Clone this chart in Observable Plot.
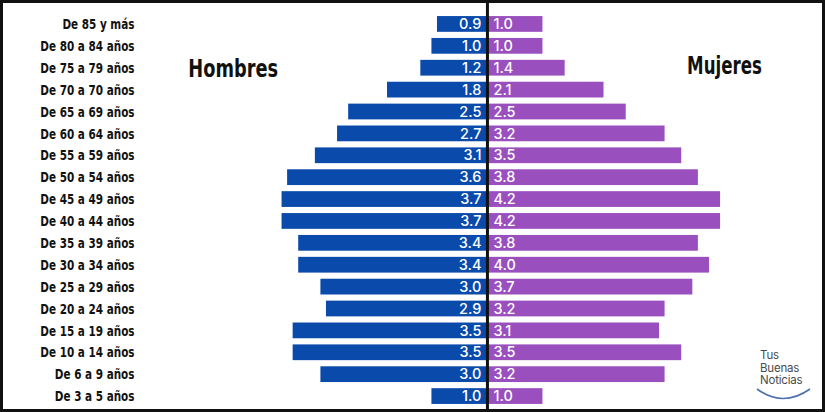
<!DOCTYPE html>
<html><head><meta charset="utf-8">
<script src="https://cdn.jsdelivr.net/npm/d3@7"></script>
<script src="https://cdn.jsdelivr.net/npm/@observablehq/plot@0.6"></script>
<style>
html,body{margin:0;padding:0;background:#fff;}
#wrap{position:relative;width:825px;height:412px;}
#wrap svg.plot{display:block;outline:3px solid #111;outline-offset:-3px;}
#logo{position:absolute;left:760px;top:349px;font-family:Inter,"Open Sans",sans-serif;font-size:11.5px;line-height:12.5px;color:#4a4a4a;letter-spacing:-0.2px;}
#arc{position:absolute;left:755px;top:386px;}
</style></head>
<body><div id="wrap"></div>
<script>
const ages = ["De 85 y más","De 80 a 84 años","De 75 a 79 años","De 70 a 70 años","De 65 a 69 años","De 60 a 64 años","De 55 a 59 años","De 50 a 54 años","De 45 a 49 años","De 40 a 44 años","De 35 a 39 años","De 30 a 34 años","De 25 a 29 años","De 20 a 24 años","De 15 a 19 años","De 10 a 14 años","De 6 a 9 años","De 3 a 5 años"];
const hombres = [0.9,1.0,1.2,1.8,2.5,2.7,3.1,3.6,3.7,3.7,3.4,3.4,3.0,2.9,3.5,3.5,3.0,1.0];
const mujeres = [1.0,1.0,1.4,2.1,2.5,3.2,3.5,3.8,4.2,4.2,3.8,4.0,3.7,3.2,3.1,3.5,3.2,1.0];
const seriesLabels = ["Hombres","Mujeres"];

const men = ages.map((a,i)=>({age:a, v:hombres[i]}));
const women = ages.map((a,i)=>({age:a, v:mujeres[i]}));
const valFont = {fontFamily:"Inter, 'Open Sans', sans-serif", fontSize:14.5, fontWeight:500, fill:"white"};
const titleFont = {fontFamily:"'DejaVu Sans Condensed',sans-serif", fontSize:25, fontWeight:"bold", fill:"#111"};

const chart = Plot.plot({
  width:825, height:412,
  marginLeft:140, marginRight:0, marginTop:13, marginBottom:5,
  x:{domain:[-6.25, 6.09], axis:null},
  y:{domain:ages, paddingInner:0.28, paddingOuter:0.14, round:false, axis:null},
  style:{fontFamily:"'DejaVu Sans Condensed',sans-serif", background:"white"},
  marks:[
    Plot.barX(men, {y:"age", x1:0, x2:d=>-d.v, fill:"#0a4aab"}),
    Plot.barX(women, {y:"age", x1:0, x2:"v", fill:"#9a4fbe"}),
    Plot.text(men, {y:"age", x:0, text:d=>d.v.toFixed(1), textAnchor:"end", dx:-6, ...valFont}),
    Plot.text(women, {y:"age", x:0, text:d=>d.v.toFixed(1), textAnchor:"start", dx:6, ...valFont}),
    Plot.ruleX([0], {stroke:"#111", strokeWidth:3, insetTop:-13, insetBottom:-5}),
    Plot.text([seriesLabels[0]], {x:-4.58, y:[ages[2]], dy:1, text:d=>d, ...titleFont}),
    Plot.text([seriesLabels[1]], {x:4.27, y:[ages[2]], dy:-2, text:d=>d, ...titleFont}),
    Plot.text(ages, {y:d=>d, frameAnchor:"left", textAnchor:"end", dx:-6, text:d=>d,
      fontFamily:"'DejaVu Sans Condensed',sans-serif", fontSize:14.5, fontWeight:"bold", fill:"#111"})
  ]
});
chart.classList.add("plot");
const wrap = document.getElementById("wrap");
wrap.appendChild(chart);
// condense fonts horizontally (narrow bold face)
chart.querySelectorAll("text").forEach(t=>{
  const s = t.textContent;
  let f = 0;
  if (ages.includes(s)) f = 0.8;
  else if (s === seriesLabels[0]) f = 0.79;
  else if (s === seriesLabels[1]) f = 0.74;
  if (f) {
    const L = t.getComputedTextLength();
    t.setAttribute("textLength", (L*f).toFixed(1));
    t.setAttribute("lengthAdjust", "spacingAndGlyphs");
  }
});
const logo = document.createElement("div");
logo.id="logo";
logo.innerHTML="Tus<br>Buenas<br>Noticias";
wrap.appendChild(logo);
const arc = document.createElementNS("http://www.w3.org/2000/svg","svg");
arc.id="arc"; arc.setAttribute("width","60"); arc.setAttribute("height","16");
arc.innerHTML='<path d="M2,3 Q28,22 55,3" fill="none" stroke="#4f6fb5" stroke-width="1.6"/>';
wrap.appendChild(arc);
</script></body></html>
